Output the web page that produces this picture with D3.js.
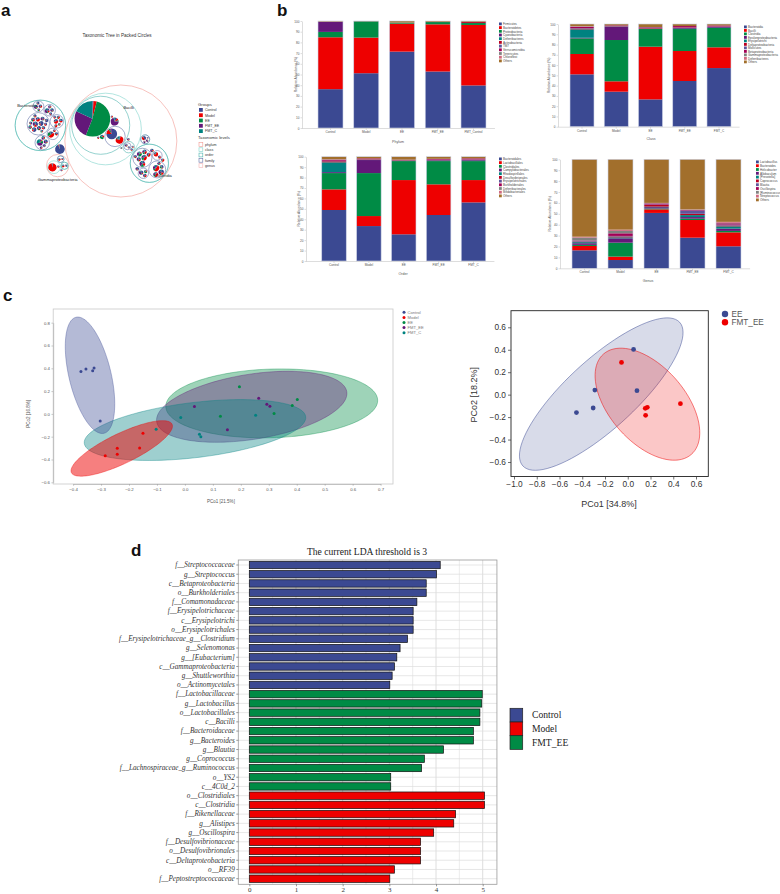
<!DOCTYPE html>
<html><head><meta charset="utf-8">
<script src="https://cdn.jsdelivr.net/npm/d3@7"></script>
<style>
body{margin:0;background:#fff}
svg{display:block}
</style>
</head><body>
<svg id="chart" width="780" height="894" style="font-family:Arial,'Liberation Sans',sans-serif"></svg>
<script>
// ---------------- DATA ----------------
const groups = ["Control","Model","EE","FMT_EE","FMT_C"];
const groupColors = ["#3B4992","#EE0000","#008B45","#631879","#008280"];
const levelNames = ["phylum","class","order","family","genus"];
const levelColors = ["#F29A93","#7FD3CB","#4FB3AE","#6473A8","#F4B3B3"];

// panel a: path, size, shares [Control, Model, EE, FMT_EE, FMT_C]
const taxa = [
 ["Verrucomicrobia;Verrucomicrobiae;Verrucomicrobiales;Verrucomicrobiaceae;Akkermansia",160,[94,2,1,2,1]],
 ["Firmicutes;Bacilli;Lactobacillales;Lactobacillaceae;Lactobacillus",2200,[1,3,52,26,18]],
 ["Firmicutes;Bacilli;Lactobacillales;Streptococcaceae;Streptococcus",200,[75,15,5,5,0]],
 ["Firmicutes;Bacilli;Lactobacillales;Streptococcaceae;Lactococcus",100,[5,75,5,5,10]],
 ["Firmicutes;Bacilli;Lactobacillales;Enterococcaceae;Enterococcus",110,[10,10,5,70,5]],
 ["Firmicutes;Bacilli;Lactobacillales;Aerococcaceae;Aerococcus",30,[10,20,55,5,10]],
 ["Firmicutes;Bacilli;Lactobacillales;Carnobacteriaceae;Carnobacterium",10,[30,30,10,20,10]],
 ["Firmicutes;Bacilli;Lactobacillales;Leuconostocaceae;Leuconostoc",8,[10,50,10,20,10]],
 ["Firmicutes;Bacilli;Bacillales;Staphylococcaceae;Staphylococcus",14,[30,20,10,30,10]],
 ["Firmicutes;Bacilli;Bacillales;Staphylococcaceae;Jeotgalicoccus",8,[50,10,10,20,10]],
 ["Firmicutes;Bacilli;Bacillales;Bacillaceae;Bacillus",10,[40,20,10,20,10]],
 ["Firmicutes;Bacilli;Bacillales;Planococcaceae;Planococcaceae g",8,[20,40,10,20,10]],
 ["Firmicutes;Bacilli;Turicibacterales;Turicibacteraceae;Turicibacter",12,[30,20,10,30,10]],
 ["Firmicutes;Bacilli;Gemellales;Gemellaceae;Gemella",6,[20,20,20,20,20]],
 ["Firmicutes;Clostridia;Clostridiales;Lachnospiraceae;Blautia",44,[10,10,40,30,10]],
 ["Firmicutes;Clostridia;Clostridiales;Lachnospiraceae;Coprococcus",53,[15,40,20,15,10]],
 ["Firmicutes;Clostridia;Clostridiales;Lachnospiraceae;[Ruminococcus]",37,[20,30,20,20,10]],
 ["Firmicutes;Clostridia;Clostridiales;Lachnospiraceae;Dorea",31,[30,20,10,30,10]],
 ["Firmicutes;Clostridia;Clostridiales;Lachnospiraceae;Roseburia",26,[10,50,10,20,10]],
 ["Firmicutes;Clostridia;Clostridiales;Lachnospiraceae;Lachnospiraceae g",60,[20,20,20,30,10]],
 ["Firmicutes;Clostridia;Clostridiales;Lachnospiraceae;Anaerostipes",19,[40,20,10,20,10]],
 ["Firmicutes;Clostridia;Clostridiales;Ruminococcaceae;Oscillospira",68,[10,50,10,20,10]],
 ["Firmicutes;Clostridia;Clostridiales;Ruminococcaceae;Ruminococcus",53,[30,20,10,30,10]],
 ["Firmicutes;Clostridia;Clostridiales;Ruminococcaceae;Faecalibacterium",26,[40,10,30,10,10]],
 ["Firmicutes;Clostridia;Clostridiales;Ruminococcaceae;Ruminococcaceae g",44,[10,45,15,20,10]],
 ["Firmicutes;Clostridia;Clostridiales;Ruminococcaceae;Anaerotruncus",19,[20,20,20,30,10]],
 ["Firmicutes;Clostridia;Clostridiales;Peptostreptococcaceae;Peptostreptococcaceae g",37,[5,70,5,10,10]],
 ["Firmicutes;Clostridia;Clostridiales;Peptostreptococcaceae;Tepidibacter",15,[20,40,10,20,10]],
 ["Firmicutes;Clostridia;Clostridiales;Clostridiaceae;Clostridium",34,[30,10,10,40,10]],
 ["Firmicutes;Clostridia;Clostridiales;Clostridiaceae;SMB53",22,[20,30,10,30,10]],
 ["Firmicutes;Clostridia;Clostridiales;Clostridiaceae;Candidatus Arthromitus",19,[10,20,50,10,10]],
 ["Firmicutes;Clostridia;Clostridiales;Christensenellaceae;Christensenellaceae g",22,[20,20,10,40,10]],
 ["Firmicutes;Clostridia;Clostridiales;Dehalobacteriaceae;Dehalobacterium",22,[40,10,10,30,10]],
 ["Firmicutes;Clostridia;Clostridiales;Mogibacteriaceae;Mogibacteriaceae g",19,[10,50,10,20,10]],
 ["Firmicutes;Erysipelotrichi;Erysipelotrichales;Erysipelotrichaceae;Allobaculum",30,[45,45,3,5,2]],
 ["Firmicutes;Erysipelotrichi;Erysipelotrichales;Erysipelotrichaceae;Clostridium",10,[10,10,10,60,10]],
 ["Firmicutes;Erysipelotrichi;Erysipelotrichales;Erysipelotrichaceae;Coprobacillus",6,[30,20,10,30,10]],
 ["Firmicutes;Erysipelotrichi;Erysipelotrichales;Erysipelotrichaceae;Erysipelotrichaceae g",8,[10,10,10,65,5]],
 ["Bacteroidetes;Bacteroidia;Bacteroidales;S24-7;S24-7 a",46,[40,20,5,25,10]],
 ["Bacteroidetes;Bacteroidia;Bacteroidales;S24-7;S24-7 b",40,[55,10,10,20,5]],
 ["Bacteroidetes;Bacteroidia;Bacteroidales;S24-7;S24-7 c",32,[20,45,5,20,10]],
 ["Bacteroidetes;Bacteroidia;Bacteroidales;S24-7;S24-7 d",29,[35,15,15,25,10]],
 ["Bacteroidetes;Bacteroidia;Bacteroidales;S24-7;S24-7 e",36,[60,15,5,10,10]],
 ["Bacteroidetes;Bacteroidia;Bacteroidales;S24-7;S24-7 f",25,[25,25,20,20,10]],
 ["Bacteroidetes;Bacteroidia;Bacteroidales;S24-7;S24-7 g",22,[45,30,5,10,10]],
 ["Bacteroidetes;Bacteroidia;Bacteroidales;S24-7;S24-7 h",27,[30,10,10,40,10]],
 ["Bacteroidetes;Bacteroidia;Bacteroidales;S24-7;S24-7 i",18,[50,20,10,10,10]],
 ["Bacteroidetes;Bacteroidia;Bacteroidales;S24-7;S24-7 j",22,[20,20,20,20,20]],
 ["Bacteroidetes;Bacteroidia;Bacteroidales;S24-7;S24-7 k",16,[40,35,5,15,5]],
 ["Bacteroidetes;Bacteroidia;Bacteroidales;S24-7;S24-7 l",20,[65,10,5,10,10]],
 ["Bacteroidetes;Bacteroidia;Bacteroidales;S24-7;S24-7 m",14,[30,20,25,15,10]],
 ["Bacteroidetes;Bacteroidia;Bacteroidales;S24-7;S24-7 n",18,[35,25,10,20,10]],
 ["Bacteroidetes;Bacteroidia;Bacteroidales;Rikenellaceae;Alistipes",36,[20,50,5,15,10]],
 ["Bacteroidetes;Bacteroidia;Bacteroidales;Rikenellaceae;Rikenella",25,[30,35,10,15,10]],
 ["Bacteroidetes;Bacteroidia;Bacteroidales;Rikenellaceae;Rikenellaceae c",18,[15,40,20,15,10]],
 ["Bacteroidetes;Bacteroidia;Bacteroidales;Rikenellaceae;Rikenellaceae d",14,[25,25,25,15,10]],
 ["Bacteroidetes;Bacteroidia;Bacteroidales;Rikenellaceae;Rikenellaceae e",16,[10,55,10,15,10]],
 ["Bacteroidetes;Bacteroidia;Bacteroidales;Rikenellaceae;Rikenellaceae f",13,[40,30,5,15,10]],
 ["Bacteroidetes;Bacteroidia;Bacteroidales;Bacteroidaceae;Bacteroides",43,[25,15,10,35,15]],
 ["Bacteroidetes;Bacteroidia;Bacteroidales;Bacteroidaceae;Bacteroidaceae b",22,[35,10,10,30,15]],
 ["Bacteroidetes;Bacteroidia;Bacteroidales;Bacteroidaceae;Bacteroidaceae c",18,[20,20,10,40,10]],
 ["Bacteroidetes;Bacteroidia;Bacteroidales;Bacteroidaceae;Bacteroidaceae d",14,[45,15,5,25,10]],
 ["Bacteroidetes;Bacteroidia;Bacteroidales;Porphyromonadaceae;Parabacteroides",65,[15,50,25,5,5]],
 ["Bacteroidetes;Bacteroidia;Bacteroidales;Porphyromonadaceae;Odoribacter",18,[30,30,10,20,10]],
 ["Bacteroidetes;Bacteroidia;Bacteroidales;Porphyromonadaceae;Butyricimonas",14,[20,40,10,20,10]],
 ["Bacteroidetes;Bacteroidia;Bacteroidales;Prevotellaceae;Prevotella",72,[10,5,15,40,30]],
 ["Bacteroidetes;Bacteroidia;Bacteroidales;Prevotellaceae;Prevotellaceae b",29,[30,10,10,40,10]],
 ["Bacteroidetes;Bacteroidia;Bacteroidales;Prevotellaceae;Prevotellaceae c",22,[15,20,10,35,20]],
 ["Bacteroidetes;Bacteroidia;Bacteroidales;Prevotellaceae;Prevotellaceae d",16,[40,10,10,30,10]],
 ["Bacteroidetes;Bacteroidia;Bacteroidales;Prevotellaceae;Prevotellaceae e",14,[25,25,5,35,10]],
 ["Bacteroidetes;Bacteroidia;Bacteroidales;Paraprevotellaceae;[Prevotella]",29,[30,10,10,30,20]],
 ["Bacteroidetes;Bacteroidia;Bacteroidales;Paraprevotellaceae;Paraprevotella",22,[20,30,10,30,10]],
 ["Bacteroidetes;Bacteroidia;Bacteroidales;Paraprevotellaceae;Paraprevotellaceae c",16,[45,15,10,20,10]],
 ["Bacteroidetes;Bacteroidia;Bacteroidales;Paraprevotellaceae;Paraprevotellaceae d",13,[25,20,25,20,10]],
 ["Proteobacteria;Gammaproteobacteria;Enterobacteriales;Enterobacteriaceae;Enterobacteriaceae g",120,[2,95,1,1,1]],
 ["Proteobacteria;Gammaproteobacteria;Pseudomonadales;Moraxellaceae;Acinetobacter",10,[40,20,10,20,10]],
 ["Proteobacteria;Betaproteobacteria;Burkholderiales;Alcaligenaceae;Sutterella",14,[20,50,10,10,10]],
 ["Proteobacteria;Betaproteobacteria;Burkholderiales;Comamonadaceae;Comamonas",9,[60,10,10,10,10]],
 ["Proteobacteria;Deltaproteobacteria;Desulfovibrionales;Desulfovibrionaceae;Desulfovibrio",12,[10,60,10,10,10]],
 ["Proteobacteria;Deltaproteobacteria;Desulfovibrionales;Desulfovibrionaceae;Bilophila",7,[30,30,10,20,10]],
 ["Proteobacteria;Epsilonproteobacteria;Campylobacterales;Helicobacteraceae;Helicobacter",8,[20,20,10,40,10]]
];
const packLabels = ["Bacteroidia","Bacilli","Clostridia","Gammaproteobacteria"];

// panel b
const stackColors = ["#3B4992","#EE0000","#008B45","#631879","#008280","#BB0021","#5F559B","#A20056","#808180","#D06A80","#A26F2C"];
const phylumCats = ["Control","Model","EE","FMT_EE","FMT_Control"];
const barCats = ["Control","Model","EE","FMT_EE","FMT_C"];
const phylumNames = ["Firmicutes","Bacteroidetes","Proteobacteria","Cyanobacteria","Deferribacteres","Actinobacteria","TM7","Verrucomicrobia","Tenericutes","Chloroflexi","Others"];
const phylumValues = [
 [36.3,48.5,5.0,9.3,0.1,0.1,0.1,0.1,0.1,0.0,0.4],
 [51.2,33.3,15.2,0.1,0.0,0.0,0.0,0.0,0.0,0.0,0.2],
 [71.4,26.1,0.9,0.0,0.1,0.1,0.0,0.0,0.0,0.0,1.4],
 [52.8,44.1,2.1,0.1,0.0,0.1,0.0,0.0,0.0,0.0,0.8],
 [39.8,56.5,1.8,0.1,0.0,1.2,0.0,0.0,0.0,0.0,0.6]
];
const classNames = ["Bacteroidia","Bacilli","Clostridia","Epsilonproteobacteria","Erysipelotrichi","Deltaproteobacteria","Mollicutes","Betaproteobacteria","Gammaproteobacteria","Deferribacteres","Others"];
const classValues = [
 [51.0,19.8,15.2,0.6,8.2,0.8,0.5,1.0,0.5,0.4,2.0],
 [34.1,10.1,40.2,13.0,0.2,0.3,0.2,0.6,0.0,0.0,1.3],
 [26.6,51.3,17.2,0.3,0.2,0.5,0.4,0.5,0.0,0.0,3.0],
 [44.5,29.2,21.4,0.8,0.2,0.4,0.2,1.3,0.0,0.0,2.0],
 [57.1,20.2,18.8,0.8,0.2,0.3,0.2,1.0,0.0,0.0,1.4]
];
const orderNames = ["Bacteroidales","Lactobacillales","Clostridiales","Campylobacterales","Rhodospirillales","Desulfovibrionales","Erysipelotrichales","Burkholderiales","Deferribacterales","Bifidobacteriales","Others"];
const orderValues = [
 [48.9,19.8,15.6,0.9,9.4,1.0,0.5,1.0,0.3,0.2,2.4],
 [33.5,9.6,41.2,12.5,0.2,0.4,0.2,0.8,0.0,0.0,1.6],
 [25.6,52.0,18.2,0.3,0.2,0.4,0.3,0.2,0.0,0.0,2.8],
 [44.1,29.4,22.3,0.7,0.2,0.3,0.2,0.8,0.0,0.0,2.0],
 [56.2,21.4,18.2,0.8,0.2,0.3,0.3,1.0,0.0,0.0,1.6]
];
const genusNames = ["Lactobacillus","Bacteroides","Helicobacter","Allobaculum","[Prevotella]","Coprococcus","Blautia","Oscillospira","[Ruminococcus]","Streptococcus","Others"];
const genusValues = [
 [16.5,4.0,1.0,1.5,1.0,0.5,0.5,0.5,2.7,0.8,71.0],
 [7.6,3.1,12.8,4.0,0.9,0.8,0.5,2.4,2.2,1.2,64.5],
 [50.8,3.3,0.8,1.2,0.5,1.5,0.4,1.0,0.3,0.2,40.0],
 [28.1,16.2,1.2,1.5,1.8,1.2,3.0,0.5,0.3,0.3,45.9],
 [20.2,12.8,1.3,2.1,2.1,0.8,0.8,1.2,0.4,0.9,57.4]
];

// panel c left (all groups)
const pcoaGroup = ["Control","Control","Control","Control","Control","Model","Model","Model","Model","Model","FMT_C","FMT_C","FMT_C","FMT_C","FMT_C","EE","EE","EE","EE","EE","FMT_EE","FMT_EE","FMT_EE","FMT_EE","FMT_EE"];
const pcoaX = [-0.372,-0.354,-0.330,-0.325,-0.303,-0.285,-0.242,-0.242,-0.162,-0.150,-0.103,-0.015,0.052,0.057,0.253,0.127,0.195,0.319,0.384,0.402,0.034,0.152,0.264,0.293,0.304];
const pcoaY = [0.373,0.394,0.379,0.402,-0.062,-0.367,-0.302,-0.355,-0.300,-0.170,-0.135,-0.032,-0.179,-0.200,-0.012,-0.021,0.238,0.003,0.073,0.126,0.065,-0.138,0.138,0.085,0.068];
const ellGroups = ["EE","FMT_EE","FMT_C","Control","Model"];
const ellCenter = [[0.3106,0.0922],[0.239,0.0624],[0.036,-0.1415],[-0.3395,0.339],[-0.226,-0.303]];
const ellAxisU = [[0.379,0.029],[0.340,0.132],[0.396,0.117],[-0.050,0.509],[0.180,0.213]];
const ellAxisV = [[0.004,-0.301],[0.018,-0.282],[0.0118,-0.240],[0.073,0.043],[0.0233,-0.1186]];

// panel c right (EE vs FMT_EE)
const pcoa2Group = ["EE","EE","EE","EE","EE","FMT_EE","FMT_EE","FMT_EE","FMT_EE","FMT_EE"];
const pcoa2X = [0.051,-0.289,0.081,-0.304,-0.451,-0.055,0.154,0.172,0.157,0.463];
const pcoa2Y = [0.403,0.041,0.035,-0.119,-0.160,0.287,-0.122,-0.113,-0.184,-0.080];
const ell2Groups = ["EE","FMT_EE"];
const ell2Center = [[-0.233,0.005],[0.173,-0.085]];
const ell2AxisU = [[0.689,0.640],[0.385,-0.448]];
const ell2AxisV = [[0.206,-0.227],[0.252,0.220]];
const pcoa2Colors = ["#3B4992","#EE0000"];

// panel d (LEfSe)
const ldaTaxa = ["f__Streptococcaceae","g__Streptococcus","c__Betaproteobacteria","o__Burkholderiales","f__Comamonadaceae","f__Erysipelotrichaceae","c__Erysipelotrichi","o__Erysipelotrichales","f__Erysipelotrichaceae_g__Clostridium","g__Selenomonas","g__[Eubacterium]","c__Gammaproteobacteria","g__Shuttleworthia","o__Actinomycetales",
 "f__Lactobacillaceae","g__Lactobacillus","o__Lactobacillales","c__Bacilli","f__Bacteroidaceae","g__Bacteroides","g__Blautia","g__Coprococcus","f__Lachnospiraceae_g__Ruminococcus","o__YS2","c__4C0d_2",
 "o__Clostridiales","c__Clostridia","f__Rikenellaceae","g__Alistipes","g__Oscillospira","f__Desulfovibrionaceae","o__Desulfovibrionales","c__Deltaproteobacteria","o__RF39","f__Peptostreptococcaceae"];
const ldaValues = [4.09,4.01,3.79,3.79,3.59,3.51,3.51,3.51,3.39,3.23,3.16,3.11,3.06,3.01,
 4.99,4.98,4.94,4.94,4.80,4.80,4.16,3.75,3.69,3.03,3.03,
 5.04,5.04,4.42,4.38,3.95,3.67,3.67,3.67,3.11,3.01];
const ldaGroupOf = ["Control","Control","Control","Control","Control","Control","Control","Control","Control","Control","Control","Control","Control","Control",
 "FMT_EE","FMT_EE","FMT_EE","FMT_EE","FMT_EE","FMT_EE","FMT_EE","FMT_EE","FMT_EE","FMT_EE","FMT_EE",
 "Model","Model","Model","Model","Model","Model","Model","Model","Model","Model"];
const ldaLegend = ["Control","Model","FMT_EE"];
const ldaColors = ["#3B4992","#EE0000","#008B45"];

// ---------------- DRAW ----------------
const svg = d3.select("#chart");
const SERIF = "'Liberation Serif','Times New Roman',Times,serif";
const panelLabel = (t,x,y)=>svg.append("text").attr("x",x).attr("y",y).attr("font-size",17).attr("font-weight","bold").attr("fill","#111").text(t);
panelLabel("a",1,16); panelLabel("b",277,16); panelLabel("c",3,301); panelLabel("d",131,556);

// ===== panel a =====
(function(){
  const g = svg.append("g");
  g.append("text").attr("x",117).attr("y",37).attr("text-anchor","middle").attr("font-size",4.6).attr("fill","#333").text("Taxonomic Tree in Packed Circles");
  const tree = {name:"root",children:[]};
  taxa.forEach(([path,size,shares])=>{
    const parts = path.split(";"); let node = tree;
    parts.forEach((p,i)=>{
      if(i===parts.length-1){ node.children.push({name:p,size,shares}); }
      else{ let ch = node.children.find(c=>c.name===p && c.children); if(!ch){ch={name:p,children:[]};node.children.push(ch);} node=ch; }
    });
  });
  const root = d3.hierarchy(tree).sum(d=>d.size||0);
  d3.pack().size([300,300]).padding(d=>d.children && d.children.length===1 ? 0 : 1.6)(root);
  const all = root.descendants();
  const find = (name,depth)=>all.find(d=>d.data.name===name && d.depth===depth);
  const rotateAround = (list, cx, cy, ang)=>{
    const ca=Math.cos(ang), sa=Math.sin(ang);
    list.forEach(d=>{const dx=d.x-cx, dy=d.y-cy; d.x=cx+dx*ca-dy*sa; d.y=cy+dx*sa+dy*ca;});
  };
  const bac = find("Bacteroidetes",1), fir = find("Firmicutes",1), pro = find("Proteobacteria",1);
  rotateAround(all, bac.x, bac.y, 11*Math.PI/180 - Math.atan2(fir.y-bac.y, fir.x-bac.x));
  const phi = Math.atan2(fir.y-bac.y, fir.x-bac.x);
  const cross = (fir.x-bac.x)*(pro.y-bac.y) - (fir.y-bac.y)*(pro.x-bac.x);
  if(cross < 0){
    const c2=Math.cos(2*phi), s2=Math.sin(2*phi), bx=bac.x, by=bac.y;
    all.forEach(d=>{const dx=d.x-bx, dy=d.y-by; d.x=bx+dx*c2+dy*s2; d.y=by+dx*s2-dy*c2;});
  }
  const bacl = find("Bacilli",2), clos = find("Clostridia",2);
  rotateAround(fir.descendants().slice(1), fir.x, fir.y, 38*Math.PI/180 - Math.atan2(clos.y-bacl.y, clos.x-bacl.x));
  const tops = root.children;
  const minX = d3.min(tops,d=>d.x-d.r), maxX = d3.max(tops,d=>d.x+d.r);
  const minY = d3.min(tops,d=>d.y-d.r), maxY = d3.max(tops,d=>d.y+d.r);
  const box = [9,183,85,197];
  const s = Math.min((box[1]-box[0])/(maxX-minX),(box[3]-box[2])/(maxY-minY));
  const ox = (box[0]+box[1])/2 - s*(minX+maxX)/2, oy = (box[2]+box[3])/2 - s*(minY+maxY)/2;
  const X = v=>ox+s*v, Y = v=>oy+s*v;
  const nodes = all.filter(d=>d.depth>0);
  const ringNodes = nodes.filter(d=>d.children && d.leaves().length>1 && (d.children.length>1 || d.depth===2));
  g.selectAll("circle.lvl").data(ringNodes).join("circle").attr("class","lvl")
    .attr("cx",d=>X(d.x)).attr("cy",d=>Y(d.y)).attr("r",d=>d.r*s)
    .attr("fill","none").attr("stroke",d=>levelColors[d.depth-1]).attr("stroke-width",0.6);
  const arc = d3.arc().innerRadius(0);
  const pie = d3.pie().sort(null);
  const lg = g.selectAll("g.leaf").data(root.leaves()).join("g").attr("class","leaf").attr("transform",d=>`translate(${X(d.x)},${Y(d.y)})`);
  lg.selectAll("path").data(d=>pie(d.data.shares).map(a=>({a,r:d.r*s}))).join("path")
    .attr("d",d=>arc.outerRadius(d.r)(d.a)).attr("fill",(d,i)=>groupColors[i]);
  packLabels.forEach(name=>{
    const n = find(name,2);
    if(!n) return;
    let tx, ty, anchor="start";
    if(name==="Bacteroidia"){ tx=X(n.x)-n.r*s*0.92; ty=Y(n.y)-n.r*s*0.72; }
    else if(name==="Bacilli"){ tx=X(n.x)+n.r*s*0.5; ty=Y(n.y)-n.r*s*0.55; }
    else if(name==="Clostridia"){ tx=X(n.x)+n.r*s*0.3; ty=Y(n.y)+n.r*s*0.72; }
    else { const p = n.parent; tx=X(p.x); ty=Y(p.y)+p.r*s+4; anchor="middle"; }
    g.append("text").attr("x",tx).attr("y",ty).attr("text-anchor",anchor).attr("font-size",4).attr("fill","#222").text(name);
  });
  const lx = 198;
  g.append("text").attr("x",lx).attr("y",105.5).attr("font-size",4.2).attr("fill","#333").text("Groups");
  groups.forEach((k,i)=>{
    const yy = 108 + i*5.3;
    g.append("rect").attr("x",lx+1).attr("y",yy).attr("width",3.8).attr("height",3.8).attr("fill",groupColors[i]);
    g.append("text").attr("x",lx+7).attr("y",yy+3.2).attr("font-size",3.6).attr("fill","#333").text(k);
  });
  g.append("text").attr("x",lx).attr("y",138.5).attr("font-size",4.2).attr("fill","#333").text("Taxonomic levels");
  levelNames.forEach((k,i)=>{
    const yy = 142.5 + i*5.3;
    g.append("rect").attr("x",lx+1).attr("y",yy).attr("width",3.8).attr("height",3.8).attr("fill","none").attr("stroke",levelColors[i]).attr("stroke-width",0.6);
    g.append("text").attr("x",lx+7).attr("y",yy+3.2).attr("font-size",3.6).attr("fill","#333").text(k);
  });
})();

// ===== panel b =====
function stackChart(cfg){
  const g = svg.append("g");
  const y = d3.scaleLinear().domain([0,100]).range([cfg.bottom,cfg.top]);
  const x = d3.scalePoint().domain(cfg.cats).range([cfg.c0,cfg.c1]);
  const rows = cfg.cats.map((c,i)=>{const o={cat:c}; cfg.names.forEach((n,j)=>o[n]=cfg.values[i][j]); return o;});
  const series = d3.stack().keys(cfg.names)(rows);
  g.append("g").selectAll("g").data(series).join("g").attr("fill",(d,i)=>stackColors[i])
    .selectAll("rect").data(d=>d).join("rect")
    .attr("x",d=>x(d.data.cat)-cfg.bw/2).attr("width",cfg.bw)
    .attr("y",d=>y(d[1])).attr("height",d=>Math.max(0,y(d[0])-y(d[1])));
  g.append("g").selectAll("rect").data(cfg.cats).join("rect")
    .attr("x",c=>x(c)-cfg.bw/2).attr("width",cfg.bw).attr("y",y(100)).attr("height",y(0)-y(100))
    .attr("fill","none").attr("stroke","#cdd2e6").attr("stroke-width",0.6);
  const ya = g.append("g").attr("transform",`translate(${cfg.yAxisX},0)`)
    .call(d3.axisLeft(y).tickValues(d3.range(0,101,10)).tickSize(1.5).tickSizeOuter(0).tickPadding(1));
  ya.selectAll("text").attr("font-size",3.1).style("fill","#555");
  ya.selectAll("line,path").style("stroke","#aaa").attr("stroke-width",0.4);
  const xEnd = cfg.c1 + x.step()*0.6;
  g.append("line").attr("x1",cfg.yAxisX).attr("x2",xEnd).attr("y1",cfg.bottom+0.5).attr("y2",cfg.bottom+0.5).attr("stroke","#bbb").attr("stroke-width",0.5);
  cfg.cats.forEach(c=>{
    g.append("line").attr("x1",x(c)).attr("x2",x(c)).attr("y1",cfg.bottom+0.5).attr("y2",cfg.bottom+2).attr("stroke","#aaa").attr("stroke-width",0.4);
    g.append("text").attr("x",x(c)).attr("y",cfg.bottom+5).attr("text-anchor","middle").attr("font-size",3.1).attr("fill","#555").text(c);
  });
  g.append("text").attr("x",cfg.titleX).attr("y",cfg.titleY).attr("text-anchor","middle").attr("font-size",3.6).attr("fill","#555").text(cfg.title);
  g.append("text").attr("transform",`translate(${cfg.yTitleX},${(cfg.top+cfg.bottom)/2}) rotate(-90)`).attr("text-anchor","middle").attr("font-size",3.3).attr("fill","#555").text("Relative Abundance (%)");
  const step = (cfg.legY1-cfg.legY0)/(cfg.names.length-1);
  cfg.names.forEach((n,i)=>{
    const yy = cfg.legY0 + i*step;
    g.append("rect").attr("x",cfg.legX).attr("y",yy-1.5).attr("width",2.8).attr("height",2.8).attr("fill",stackColors[i]);
    g.append("text").attr("x",cfg.legX+4).attr("y",yy+1.1).attr("font-size",3).attr("fill","#444").text(n);
  });
}
stackChart({names:phylumNames,values:phylumValues,cats:phylumCats,yAxisX:302,top:21,bottom:128,c0:330.5,c1:473.5,bw:25,title:"Phylum",titleX:398,titleY:143,yTitleX:297,legX:499,legY0:24,legY1:61});
stackChart({names:classNames,values:classValues,cats:barCats,yAxisX:558,top:24,bottom:126.7,c0:582,c1:719,bw:24,title:"Class",titleX:651,titleY:140,yTitleX:550,legX:744,legY0:27,legY1:62});
stackChart({names:orderNames,values:orderValues,cats:barCats,yAxisX:306,top:156.7,bottom:261,c0:334,c1:473.5,bw:24.5,title:"Order",titleX:403,titleY:275,yTitleX:300,legX:499,legY0:159,legY1:196});
stackChart({names:genusNames,values:genusValues,cats:barCats,yAxisX:560,top:159.3,bottom:268.3,c0:584.5,c1:728.5,bw:25,title:"Genus",titleX:648,titleY:282,yTitleX:551,legX:756,legY0:162,legY1:200});

// ===== panel c left =====
function ellipsePath(xs, ys, c, u, v){
  const pts = d3.range(0, 360, 4).map(t=>{const a=t*Math.PI/180; return [xs(c[0]+Math.cos(a)*u[0]+Math.sin(a)*v[0]), ys(c[1]+Math.cos(a)*u[1]+Math.sin(a)*v[1])];});
  return d3.line().curve(d3.curveCardinalClosed)(pts);
}
(function(){
  const g = svg.append("g");
  const xs = d3.scaleLinear().domain([-0.4,0.7]).range([73.1,380.6]);
  const ys = d3.scaleLinear().domain([-0.6,0.8]).range([482.3,322.7]);
  const L=53.2,R=393,T=309,B=484;
  g.append("rect").attr("x",L).attr("y",T).attr("width",R-L).attr("height",B-T).attr("fill","none").attr("stroke","#c9c9c9").attr("stroke-width",0.8);
  const col = k=>groupColors[groups.indexOf(k)];
  ellGroups.forEach((k,i)=>{
    g.append("path").attr("d",ellipsePath(xs,ys,ellCenter[i],ellAxisU[i],ellAxisV[i]))
      .attr("fill",col(k)).attr("fill-opacity",k==="Model"?0.5:0.38).attr("stroke",col(k)).attr("stroke-opacity",0.6).attr("stroke-width",0.6);
  });
  g.selectAll("circle.pt").data(pcoaX).join("circle").attr("class","pt")
    .attr("cx",d=>xs(d)).attr("cy",(d,i)=>ys(pcoaY[i])).attr("r",1.5).attr("fill",(d,i)=>col(pcoaGroup[i]));
  const ya = g.append("g").attr("transform",`translate(${L},0)`).call(d3.axisLeft(ys).tickValues(d3.range(-0.6,0.81,0.2)).tickFormat(d3.format(".1f")).tickSize(1.8).tickSizeOuter(0).tickPadding(1.5));
  ya.selectAll("text").attr("font-size",4.3).style("fill","#555");
  ya.selectAll("line,path").style("stroke","#999").attr("stroke-width",0.5);
  const xa = g.append("g").attr("transform",`translate(0,${B})`).call(d3.axisBottom(xs).tickValues(d3.range(-0.4,0.71,0.1)).tickFormat(d3.format(".1f")).tickSize(1.8).tickSizeOuter(0).tickPadding(2));
  xa.selectAll("text").attr("font-size",4.3).style("fill","#555");
  xa.selectAll("line,path").style("stroke","#999").attr("stroke-width",0.5);
  g.append("text").attr("x",221).attr("y",502.5).attr("text-anchor","middle").attr("font-size",4.5).attr("fill","#555").text("PCo1 [21.5%]");
  g.append("text").attr("transform",`translate(30,${ys(0)}) rotate(-90)`).attr("text-anchor","middle").attr("font-size",4.5).attr("fill","#555").text("PCo2 [16.8%]");
  groups.forEach((k,i)=>{
    const yy = 312.3 + i*5.1;
    g.append("circle").attr("cx",404).attr("cy",yy).attr("r",1.5).attr("fill",groupColors[i]);
    g.append("text").attr("x",407.5).attr("y",yy+1.5).attr("font-size",4.1).attr("fill","#777").text(k);
  });
})();

// ===== panel c right =====
(function(){
  const g = svg.append("g");
  const xs = d3.scaleLinear().domain([-1.0,0.6]).range([514,696]);
  const ys = d3.scaleLinear().domain([-0.6,0.6]).range([462,327.3]);
  const L=511,R=708.3,T=310.7,B=476.5;
  ell2Groups.forEach((k,i)=>{
    g.append("path").attr("d",ellipsePath(xs,ys,ell2Center[i],ell2AxisU[i],ell2AxisV[i]))
      .attr("fill",pcoa2Colors[i]).attr("fill-opacity",i===0?0.2:0.22).attr("stroke",pcoa2Colors[i]).attr("stroke-opacity",0.7).attr("stroke-width",0.7);
  });
  g.selectAll("circle.pt").data(pcoa2X).join("circle").attr("class","pt")
    .attr("cx",d=>xs(d)).attr("cy",(d,i)=>ys(pcoa2Y[i])).attr("r",2.4).attr("fill",(d,i)=>pcoa2Colors[ell2Groups.indexOf(pcoa2Group[i])]);
  g.append("rect").attr("x",L).attr("y",T).attr("width",R-L).attr("height",B-T).attr("fill","none").attr("stroke","#222").attr("stroke-width",0.9);
  const ya = g.append("g").attr("transform",`translate(${L},0)`).call(d3.axisLeft(ys).tickValues(d3.range(-0.6,0.61,0.2)).tickFormat(d3.format(".1f")).tickSize(3).tickSizeOuter(0).tickPadding(2));
  ya.selectAll("text").attr("font-size",8.3).style("fill","#333");
  ya.selectAll("line").style("stroke","#333").attr("stroke-width",0.7); ya.select("path").remove();
  const xa = g.append("g").attr("transform",`translate(0,${B})`).call(d3.axisBottom(xs).tickValues(d3.range(-1.0,0.61,0.2)).tickFormat(d3.format(".1f")).tickSize(3).tickSizeOuter(0).tickPadding(1.5));
  xa.selectAll("text").attr("font-size",8.3).style("fill","#333");
  xa.selectAll("line").style("stroke","#333").attr("stroke-width",0.7); xa.select("path").remove();
  g.append("text").attr("x",609).attr("y",507).attr("text-anchor","middle").attr("font-size",9).attr("fill","#333").text("PCo1 [34.8%]");
  g.append("text").attr("transform",`translate(477,${ys(0)}) rotate(-90)`).attr("text-anchor","middle").attr("font-size",9).attr("fill","#333").text("PCo2 [18.2%]");
  ell2Groups.forEach((k,i)=>{
    const yy = 314 + i*8.3;
    g.append("circle").attr("cx",725).attr("cy",yy).attr("r",3.2).attr("fill",pcoa2Colors[i]);
    g.append("text").attr("x",731.5).attr("y",yy+3).attr("font-size",8.2).attr("fill","#555").text(k);
  });
})();

// ===== panel d =====
(function(){
  const g = svg.append("g");
  const xs = d3.scaleLinear().domain([0,5]).range([249.3,482.7]);
  const ys = d3.scaleBand().domain(ldaTaxa).range([560,883.7]).paddingInner(0.2).paddingOuter(0.142);
  const L = xs(-0.236), R = xs(5.305), T = 560, B = 884.3;
  d3.range(0.5,5.31,0.5).forEach(v=>{
    g.append("line").attr("x1",xs(v)).attr("x2",xs(v)).attr("y1",T).attr("y2",B).attr("stroke",Number.isInteger(v)?"#d0d0d0":"#e4e4e4").attr("stroke-width",0.7);
  });
  ldaTaxa.forEach(t=>{
    g.append("line").attr("x1",L).attr("x2",R).attr("y1",ys(t)+ys.bandwidth()/2).attr("y2",ys(t)+ys.bandwidth()/2).attr("stroke","#dcdcdc").attr("stroke-width",0.7);
  });
  g.selectAll("rect.bar").data(ldaTaxa).join("rect").attr("class","bar")
    .attr("x",xs(0)).attr("y",t=>ys(t)).attr("height",ys.bandwidth())
    .attr("width",(t,i)=>xs(ldaValues[i])-xs(0))
    .attr("fill",(t,i)=>ldaColors[ldaLegend.indexOf(ldaGroupOf[i])])
    .attr("stroke","#111").attr("stroke-width",0.7);
  g.append("rect").attr("x",L).attr("y",T).attr("width",R-L).attr("height",B-T).attr("fill","none").attr("stroke","#9a9a9a").attr("stroke-width",0.8);
  const ya = g.append("g").attr("transform",`translate(${L},0)`).call(d3.axisLeft(ys).tickSize(2).tickSizeOuter(0).tickPadding(1.5));
  ya.selectAll("text").attr("font-size",7.2).style("font-style","italic").style("font-family",SERIF).style("fill","#333");
  ya.selectAll("line").style("stroke","#555").attr("stroke-width",0.6); ya.select("path").remove();
  const xa = g.append("g").attr("transform",`translate(0,${B})`).call(d3.axisBottom(xs).ticks(5).tickFormat(d3.format("d")).tickSize(2).tickSizeOuter(0).tickPadding(1));
  xa.selectAll("text").attr("font-size",7).style("font-family",SERIF).style("fill","#333");
  xa.selectAll("line").style("stroke","#555").attr("stroke-width",0.6); xa.select("path").remove();
  g.append("text").attr("x",367).attr("y",554.5).attr("text-anchor","middle").attr("font-size",9.6).style("font-family",SERIF).attr("fill","#222").text("The current LDA threshold is 3");
  ldaLegend.forEach((k,i)=>{
    const yy = 708.3 + i*13.7;
    g.append("rect").attr("x",510).attr("y",yy).attr("width",12.7).attr("height",13.7).attr("fill",ldaColors[i]).attr("stroke","#222").attr("stroke-width",0.7);
    g.append("text").attr("x",532).attr("y",yy+10).attr("font-size",9.6).style("font-family",SERIF).attr("fill","#222").text(k);
  });
})();
</script>
</body></html>
